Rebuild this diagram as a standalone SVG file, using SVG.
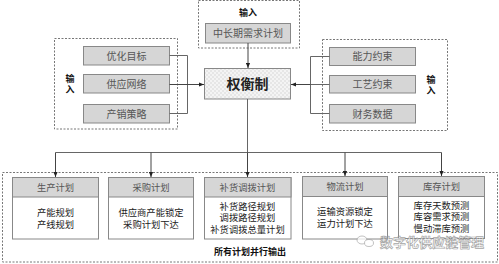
<svg xmlns="http://www.w3.org/2000/svg" width="499" height="264" viewBox="0 0 499 264">
<defs>
<pattern id="chk" width="4" height="4" patternUnits="userSpaceOnUse">
<rect width="4" height="4" fill="#f4f4f4"/>
<rect width="2" height="2" fill="#e6e6e6"/>
<rect x="2" y="2" width="2" height="2" fill="#e6e6e6"/>
</pattern>
<marker id="ah" viewBox="0 0 6 6" refX="6" refY="3" markerWidth="5" markerHeight="5" orient="auto">
<path d="M0,0.5 L6,3 L0,5.5 Z" fill="#222"/>
</marker>
</defs>
<style>
text{font-family:"Liberation Sans","Noto Sans CJK SC",sans-serif;text-anchor:middle;dominant-baseline:central}
.dash{fill:none;stroke:#777;stroke-width:1;stroke-dasharray:2,1.5}
.gbox{fill:#d6d6d6;stroke:#888;stroke-width:1}
.gt{font-size:10px;fill:#555}
.lbl{font-size:9px;font-weight:bold;fill:#111}
.pbox{fill:#fff;stroke:#888;stroke-width:1}
.ph{fill:#d6d6d6;stroke:#888;stroke-width:1}
.pht{font-size:9.3px;fill:#555}
.pb{font-size:9.3px;fill:#222}
.ln{fill:none;stroke:#666;stroke-width:1}
.arr{fill:none;stroke:#444;stroke-width:1;marker-end:url(#ah)}
</style>
<rect width="499" height="264" fill="#fff"/>

<g id="group-top">
<rect class="dash" x="198.5" y="0.5" width="101" height="47.5"/>
<text class="lbl" x="248" y="13">输入</text>
</g>
<g id="node-demand">
<rect class="gbox" x="205.5" y="23.5" width="85" height="19.5"/>
<text class="gt" x="248" y="33.5">中长期需求计划</text>
</g>

<g id="node-center">
<rect x="204.5" y="68.5" width="86" height="30.5" fill="url(#chk)" stroke="#888"/>
<text x="247.5" y="84" style="font-size:14px;font-weight:bold;fill:#222">权衡制</text>
</g>

<g id="group-left">
<rect class="dash" x="54.5" y="38.5" width="123" height="90.5"/>
<text class="lbl" x="70" y="78.5">输</text>
<text class="lbl" x="70" y="89.5">入</text>
</g>
<g id="node-goal">
<rect class="gbox" x="83.5" y="46.5" width="86" height="18.5"/>
<text class="gt" x="126.5" y="56">优化目标</text>
</g>
<g id="node-network">
<rect class="gbox" x="83.5" y="74.5" width="86" height="18.5"/>
<text class="gt" x="126.5" y="84">供应网络</text>
</g>
<g id="node-strategy">
<rect class="gbox" x="83.5" y="104.5" width="86" height="18.5"/>
<text class="gt" x="126.5" y="114">产销策略</text>
</g>

<g id="group-right">
<rect class="dash" x="322.5" y="39.5" width="125" height="91"/>
<text class="lbl" x="431" y="79.5">输</text>
<text class="lbl" x="431" y="90.5">入</text>
</g>
<g id="node-capacity">
<rect class="gbox" x="329.5" y="47.5" width="86" height="18"/>
<text class="gt" x="372.5" y="56.5">能力约束</text>
</g>
<g id="node-process">
<rect class="gbox" x="329.5" y="75.5" width="86" height="17.5"/>
<text class="gt" x="372.5" y="84">工艺约束</text>
</g>
<g id="node-finance">
<rect class="gbox" x="329.5" y="104.5" width="86" height="18.5"/>
<text class="gt" x="372.5" y="114">财务数据</text>
</g>

<g id="group-bottom">
<rect class="dash" x="2.5" y="172.5" width="495" height="89.5"/>
<text class="lbl" x="250" y="252">所有计划并行输出</text>
</g>
<g id="node-production">
<rect class="pbox" x="12.5" y="177.5" width="86" height="61.5"/>
<rect class="ph" x="12.5" y="177.5" width="86" height="19.5"/>
<text class="pht" x="55.5" y="187.5">生产计划</text>
<text class="pb" x="55.5" y="212.5">产能规划</text>
<text class="pb" x="55.5" y="224.5">产线规划</text>
</g>
<g id="node-purchase">
<rect class="pbox" x="108.5" y="177.5" width="85" height="61.5"/>
<rect class="ph" x="108.5" y="177.5" width="85" height="19.5"/>
<text class="pht" x="151" y="187.5">采购计划</text>
<text class="pb" x="151" y="212.5">供应商产能锁定</text>
<text class="pb" x="151" y="224.5">采购计划下达</text>
</g>
<g id="node-replenish">
<rect class="pbox" x="204.5" y="177.5" width="86.5" height="61.5"/>
<rect class="ph" x="204.5" y="177.5" width="86.5" height="19.5"/>
<text class="pht" x="247.5" y="187.5">补货调拨计划</text>
<text class="pb" x="247.5" y="206.5">补货路径规划</text>
<text class="pb" x="247.5" y="218">调拨路径规划</text>
<text class="pb" x="247.5" y="229.5">补货调拨总量计划</text>
</g>
<g id="node-logistics">
<rect class="pbox" x="302.5" y="176.5" width="85" height="62.5"/>
<rect class="ph" x="302.5" y="176.5" width="85" height="20"/>
<text class="pht" x="345" y="186.5">物流计划</text>
<text class="pb" x="345" y="212">运输资源锁定</text>
<text class="pb" x="345" y="223.5">运力计划下达</text>
</g>
<g id="node-inventory">
<rect class="pbox" x="398.5" y="176.5" width="86" height="62"/>
<rect class="ph" x="398.5" y="176.5" width="86" height="20"/>
<text class="pht" x="441.5" y="186.5">库存计划</text>
<text class="pb" x="441.5" y="205.5">库存天数预测</text>
<text class="pb" x="441.5" y="217">库容需求预测</text>
<text class="pb" x="441.5" y="228.5">慢动滞库预测</text>
</g>

<g id="connectors">
<path class="arr" d="M248,43 V68"/>
<path class="ln" d="M169.5,55.5 H187.5 V113.5 H169.5"/>
<path class="arr" d="M169.5,84.5 H204"/>
<path class="ln" d="M329.5,56.5 H310.5 V113.5 H329.5"/>
<path class="ln" d="M329.5,84.5 H310.5"/>
<path class="arr" d="M310.5,84.5 H291"/>
<path class="ln" d="M247.5,99 V152.5"/>
<path class="ln" d="M55.5,152.5 H441.5"/>
<path class="arr" d="M55.5,152.5 V177"/>
<path class="arr" d="M151,152.5 V177"/>
<path class="arr" d="M247.5,152.5 V177"/>
<path class="arr" d="M345,152.5 V176"/>
<path class="arr" d="M441.5,152.5 V176"/>
</g>

<g id="watermark" opacity="0.75">
<ellipse cx="362" cy="240" rx="5" ry="4" fill="#fff" stroke="#999" stroke-width="0.8"/>
<ellipse cx="369" cy="243" rx="4.5" ry="3.5" fill="#fff" stroke="#999" stroke-width="0.8"/>
<text x="432" y="242" style="font-size:13px;font-weight:bold;fill:#fff;stroke:#888;stroke-width:0.7">数字化供应链管理</text>
</g>
</svg>
